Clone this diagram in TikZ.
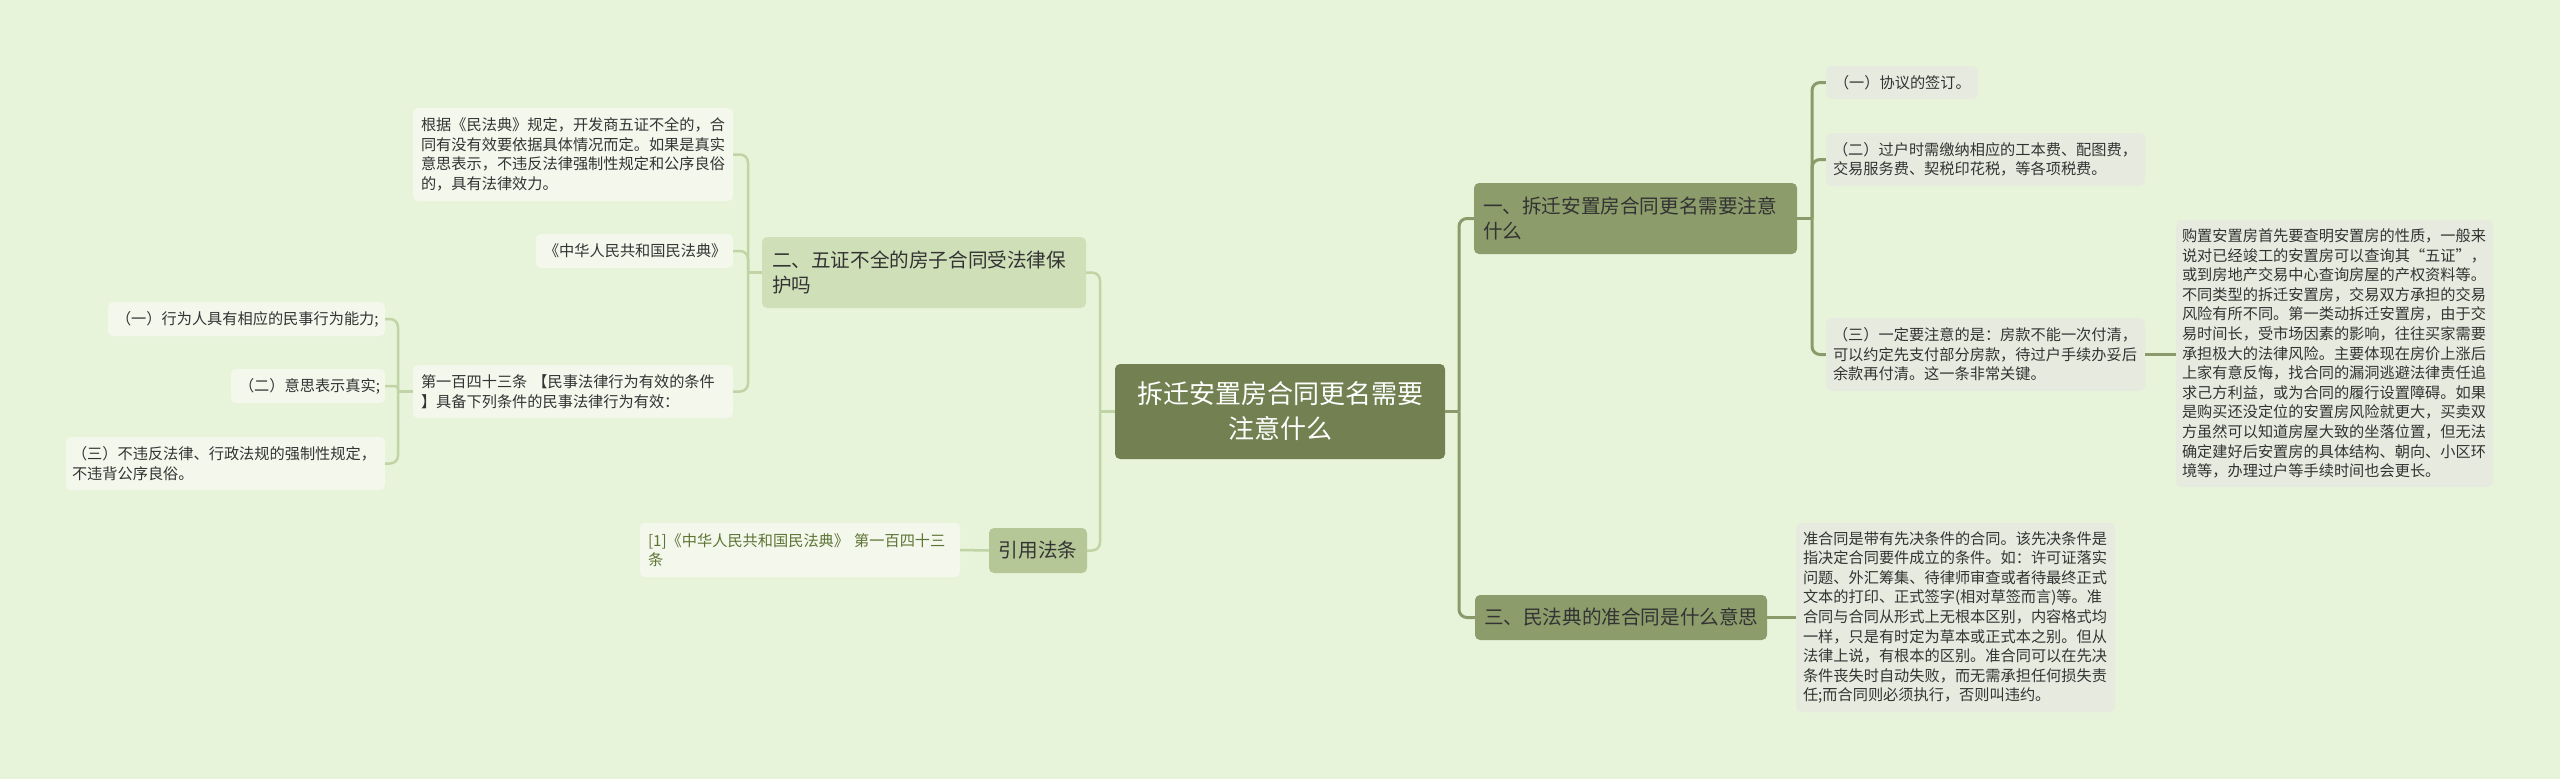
\documentclass[tikz,border=0pt]{standalone}
\usepackage{fontspec}
\setmainfont{Noto Sans CJK SC}
\definecolor{bg}{HTML}{E8F4DA}
\definecolor{rootfill}{HTML}{738152}
\definecolor{midfill}{HTML}{8C9C6B}
\definecolor{lightfill}{HTML}{CFE0B8}
\definecolor{reffill}{HTML}{B5C697}
\definecolor{leafl}{HTML}{F3F7EC}
\definecolor{leafr}{HTML}{E7EBDF}
\definecolor{txt}{HTML}{333333}
\definecolor{linkt}{HTML}{5E7434}
\definecolor{rline}{HTML}{8B9A6B}
\definecolor{lline}{HTML}{C0D4A6}
\newcommand\leaffont{\fontsize{15.2pt}{19.6pt}\selectfont}
\newcommand\brfont{\fontsize{19.6pt}{24.5pt}\selectfont}
\newcommand\rootfont{\fontsize{26pt}{35pt}\selectfont}
\tikzset{
  box/.style={rounded corners=5pt, inner ysep=0pt, anchor=center},
  leafL/.style={box, fill=leafl, text=txt, font=\leaffont, align=left, inner xsep=8pt},
  leafR/.style={box, fill=leafr, text=txt, font=\leaffont, align=left, inner xsep=8pt},
  rootbox/.style={box, fill=rootfill, text=white, font=\rootfont, align=center, inner xsep=10pt},
  midbox/.style={box, fill=midfill, text=txt, font=\brfont, align=left, inner xsep=9pt},
  lightbox/.style={box, fill=lightfill, text=txt, font=\brfont, align=left, inner xsep=10pt},
  refbox/.style={box, fill=reffill, text=txt, font=\brfont, align=center, inner xsep=9pt},
  rconn/.style={draw=rline, line width=3pt, rounded corners=8pt},
  lconn/.style={draw=lline, line width=2.5pt, rounded corners=8pt},
}
\begin{document}
\begin{tikzpicture}[x=1pt,y=-1pt]
\fill[bg] (0,0) rectangle (2560,779);
\useasboundingbox (0,0) rectangle (2560,779);

% root
\node[rootbox, text width=310pt, minimum height=95pt] (root) at (1280,411.5) {拆迁安置房合同更名需要\\注意什么};

% main branches
\node[midbox, text width=305pt, minimum height=71pt] (br1) at (1635.5,218.5) {一、拆迁安置房合同更名需要注意\\什么};
\node[midbox, text width=274pt, minimum height=45pt, align=center] (br3) at (1621,617.5) {三、民法典的准合同是什么意思};
\node[lightbox, text width=304pt, minimum height=71pt] (br2) at (924,272.5) {二、五证不全的房子合同受法律保\\护吗};
\node[refbox, text width=80pt, minimum height=45pt] (brref) at (1038,550.5) {引用法条};

% children of br2
\node[leafL, text width=304pt, minimum height=93pt] (la1) at (573,154.5) {根据《民法典》规定，开发商五证不全的，合\\同有没有效要依据具体情况而定。如果是真实\\意思表示，不违反法律强制性规定和公序良俗\\的，具有法律效力。};
\node[leafL, text width=181pt, minimum height=34pt, align=center] (la2) at (634.5,251) {《中华人民共和国民法典》};
\node[leafL, text width=304pt, minimum height=53pt] (la3) at (573,391.5) {第一百四十三条 【民事法律行为有效的条件\\】具备下列条件的民事法律行为有效：};

% children of la3
\node[leafL, text width=261pt, minimum height=34pt, align=center] (lb1) at (246.5,319) {（一）行为人具有相应的民事行为能力;};
\node[leafL, text width=138pt, minimum height=34pt, align=center] (lb2) at (308,386) {（二）意思表示真实;};
\node[leafL, text width=307pt, minimum height=53pt, inner xsep=6pt] (lb3) at (225.5,463.5) {（三）不违反法律、行政法规的强制性规定，\\不违背公序良俗。};

% child of brref
\node[leafL, text width=304pt, minimum height=54pt, text=linkt] (lref) at (800,550) {[1]《中华人民共和国民法典》 第一百四十三\\条};

% children of br1
\node[leafR, text width=136pt, minimum height=33pt, align=center] (rc1) at (1902,82.5) {（一）协议的签订。};
\node[leafR, text width=305pt, minimum height=53pt, inner xsep=7pt] (rc2) at (1985.5,159.5) {（二）过户时需缴纳相应的工本费、配图费，\\交易服务费、契税印花税，等各项税费。};
\node[leafR, text width=305pt, minimum height=73pt, inner xsep=7pt] (rc3) at (1985.5,354.5) {（三）一定要注意的是：房款不能一次付清，\\可以约定先支付部分房款，待过户手续办妥后\\余款再付清。这一条非常关键。};
\node[leafR, text width=305pt, minimum height=267pt, inner xsep=6pt] (rbig) at (2334.5,353.5) {购置安置房首先要查明安置房的性质，一般来\\说对已经竣工的安置房可以查询其“五证”，\\或到房地产交易中心查询房屋的产权资料等。\\不同类型的拆迁安置房，交易双方承担的交易\\风险有所不同。第一类动拆迁安置房，由于交\\易时间长，受市场因素的影响，往往买家需要\\承担极大的法律风险。主要体现在房价上涨后\\上家有意反悔，找合同的漏洞逃避法律责任追\\求己方利益，或为合同的履行设置障碍。如果\\是购买还没定位的安置房风险就更大，买卖双\\方虽然可以知道房屋大致的坐落位置，但无法\\确定建好后安置房的具体结构、朝向、小区环\\境等，办理过户等手续时间也会更长。};

% child of br3
\node[leafR, text width=305pt, minimum height=189pt, inner xsep=7pt] (rd) at (1955.5,617.5) {准合同是带有先决条件的合同。该先决条件是\\指决定合同要件成立的条件。如：许可证落实\\问题、外汇筹集、待律师审查或者待最终正式\\文本的打印、正式签字(相对草签而言)等。准\\合同与合同从形式上无根本区别，内容格式均\\一样，只是有时定为草本或正式本之别。但从\\法律上说，有根本的区别。准合同可以在先决\\条件丧失时自动失败，而无需承担任何损失责\\任;而合同则必须执行，否则叫违约。};

% junctions
\coordinate (jl) at (1100,411.5);
\coordinate (jr) at (1459,411.5);
\coordinate (j2) at (748,272.5);
\coordinate (j3) at (398,391.5);
\coordinate (j4) at (1812,218.5);

% connectors right
\draw[rconn] (root.east) -- (jr);
\draw[rconn] (jr) |- (br1.west);
\draw[rconn] (jr) |- (br3.west);
\draw[rconn] (br1.east) -- (j4);
\draw[rconn] (j4) |- (rc1.west);
\draw[rconn] (j4) |- (rc2.west);
\draw[rconn] (j4) |- (rc3.west);
\draw[rconn] (rc3.east) -- (rc3.east -| rbig.west);
\draw[rconn] (br3.east) -- (rd.west);

% connectors left
\draw[lconn] (root.west) -- (jl);
\draw[lconn] (jl) |- (br2.east);
\draw[lconn] (jl) |- (brref.east);
\draw[lconn] (br2.west) -- (j2);
\draw[lconn] (j2) |- (la1.east);
\draw[lconn] (j2) |- (la2.east);
\draw[lconn] (j2) |- (la3.east);
\draw[lconn] (la3.west) -- (j3);
\draw[lconn] (j3) |- (lb1.east);
\draw[lconn, rounded corners=3pt] (j3) |- (lb2.east);
\draw[lconn] (j3) |- (lb3.east);
\draw[lconn] (lref.east) -- (brref.west);
\end{tikzpicture}
\end{document}
